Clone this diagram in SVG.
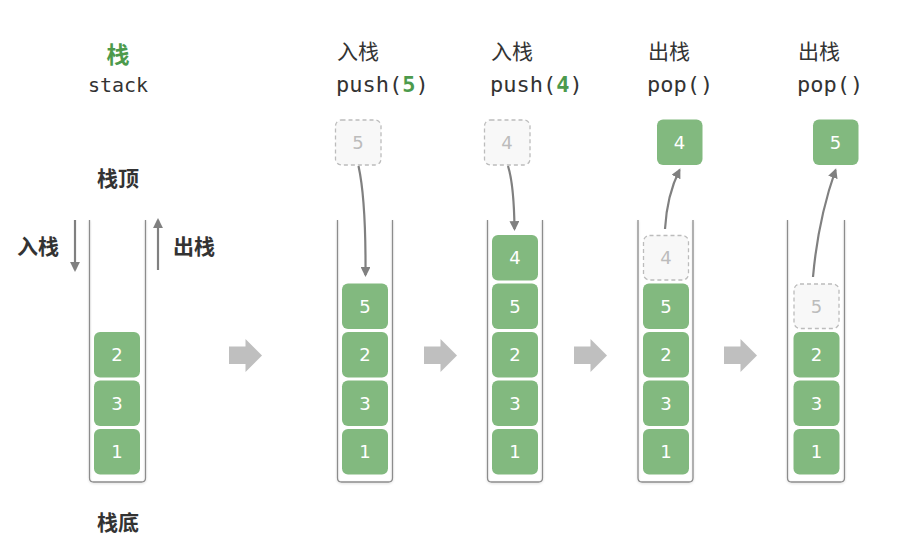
<svg xmlns="http://www.w3.org/2000/svg" width="922" height="553" viewBox="0 0 922 553">
<defs>
<style>
.cjk{font-family:"Noto Sans CJK SC","Noto Sans",sans-serif;fill:#333}
.b{font-weight:bold}
.mono{font-family:"DejaVu Sans Mono","Liberation Mono",monospace;fill:#333}
.wall{fill:none;stroke:#8c8c8c;stroke-width:1.3}
.blk{fill:#82b97f}
.blkt{font-family:"DejaVu Sans","Noto Sans",sans-serif;font-size:18px;fill:#fff;text-anchor:middle;dominant-baseline:central}
.ghost{fill:#f8f8f8;stroke:#bcbcbc;stroke-width:1.3;stroke-dasharray:4 3}
.ghostt{font-family:"DejaVu Sans","Noto Sans",sans-serif;font-size:18px;fill:#bcbcbc;text-anchor:middle;dominant-baseline:central}
.conn{fill:none;stroke:#808080;stroke-width:2.2}
.big{fill:#bfbfbf}
</style>
<marker id="ah" viewBox="0 0 10 10" refX="8" refY="5" markerWidth="4.5" markerHeight="4.5" orient="auto">
<path d="M0,0 L10,5 L0,10 z" fill="#808080"/>
</marker>
<filter id="sh" x="-20%" y="-5%" width="140%" height="110%"><feDropShadow dx="0" dy="1" stdDeviation="1.2" flood-color="#000" flood-opacity="0.15"/></filter>
</defs>

<!-- Stack 1 -->
<g id="stack-intro">
<text x="118" y="63" class="cjk b" font-size="23" text-anchor="middle" style="fill:#4c9a4c">栈</text>
<text x="118" y="92" class="mono" font-size="20" text-anchor="middle">stack</text>
<text x="118" y="186" class="cjk b" font-size="21" text-anchor="middle">栈顶</text>
<text x="38" y="254" class="cjk b" font-size="21" text-anchor="middle">入栈</text>
<text x="194" y="254" class="cjk b" font-size="21" text-anchor="middle">出栈</text>
<text x="118" y="530" class="cjk b" font-size="21" text-anchor="middle">栈底</text>
<path class="wall" filter="url(#sh)" d="M89.5 220 V478 Q89.5 482 93.5 482 H141.5 Q145.5 482 145.5 478 V220"/>
<rect class="blk" x="94" y="332" width="46" height="45.5" rx="6"/><text class="blkt" x="117" y="354.5">2</text>
<rect class="blk" x="94" y="380.5" width="46" height="45.5" rx="6"/><text class="blkt" x="117" y="403">3</text>
<rect class="blk" x="94" y="429" width="46" height="45.5" rx="6"/><text class="blkt" x="117" y="451.5">1</text>
</g>

<!-- Stack 2 push(5) -->
<g id="stack-push5">
<text x="337" y="59" class="cjk" font-size="21">入栈</text>
<text x="336" y="92" class="mono" font-size="22">push(<tspan font-weight="bold" style="fill:#4c9a4c">5</tspan>)</text>
<rect class="ghost" x="335.5" y="120" width="45.5" height="45" rx="6"/><text class="ghostt" x="358" y="142.5">5</text>
<path class="wall" filter="url(#sh)" d="M337.5 220 V478 Q337.5 482 341.5 482 H388.5 Q392.5 482 392.5 478 V220"/>
<rect class="blk" x="342" y="283.5" width="46" height="45.5" rx="6"/><text class="blkt" x="365" y="306">5</text>
<rect class="blk" x="342" y="332" width="46" height="45.5" rx="6"/><text class="blkt" x="365" y="354.5">2</text>
<rect class="blk" x="342" y="380.5" width="46" height="45.5" rx="6"/><text class="blkt" x="365" y="403">3</text>
<rect class="blk" x="342" y="429" width="46" height="45.5" rx="6"/><text class="blkt" x="365" y="451.5">1</text>
</g>

<!-- Stack 3 push(4) -->
<g id="stack-push4">
<text x="491" y="59" class="cjk" font-size="21">入栈</text>
<text x="490" y="92" class="mono" font-size="22">push(<tspan font-weight="bold" style="fill:#4c9a4c">4</tspan>)</text>
<rect class="ghost" x="484.5" y="120" width="45.5" height="45" rx="6"/><text class="ghostt" x="507" y="142.5">4</text>
<path class="wall" filter="url(#sh)" d="M487.5 220 V478 Q487.5 482 491.5 482 H538.5 Q542.5 482 542.5 478 V220"/>
<rect class="blk" x="492" y="235" width="46" height="45.5" rx="6"/><text class="blkt" x="515" y="257.5">4</text>
<rect class="blk" x="492" y="283.5" width="46" height="45.5" rx="6"/><text class="blkt" x="515" y="306">5</text>
<rect class="blk" x="492" y="332" width="46" height="45.5" rx="6"/><text class="blkt" x="515" y="354.5">2</text>
<rect class="blk" x="492" y="380.5" width="46" height="45.5" rx="6"/><text class="blkt" x="515" y="403">3</text>
<rect class="blk" x="492" y="429" width="46" height="45.5" rx="6"/><text class="blkt" x="515" y="451.5">1</text>
</g>

<!-- Stack 4 pop() -->
<g id="stack-pop1">
<text x="648" y="59" class="cjk" font-size="21">出栈</text>
<text x="647" y="92" class="mono" font-size="22">pop()</text>
<rect class="blk" x="657" y="119.5" width="45.5" height="45.5" rx="6"/><text class="blkt" x="679.5" y="142">4</text>
<path class="wall" filter="url(#sh)" d="M638 220 V478 Q638 482 642 482 H689 Q693 482 693 478 V220"/>
<rect class="ghost" x="643.5" y="235.5" width="45" height="44.5" rx="6"/><text class="ghostt" x="666" y="257.5">4</text>
<rect class="blk" x="643" y="283.5" width="46" height="45.5" rx="6"/><text class="blkt" x="666" y="306">5</text>
<rect class="blk" x="643" y="332" width="46" height="45.5" rx="6"/><text class="blkt" x="666" y="354.5">2</text>
<rect class="blk" x="643" y="380.5" width="46" height="45.5" rx="6"/><text class="blkt" x="666" y="403">3</text>
<rect class="blk" x="643" y="429" width="46" height="45.5" rx="6"/><text class="blkt" x="666" y="451.5">1</text>
</g>

<!-- Stack 5 pop() -->
<g id="stack-pop2">
<text x="798" y="59" class="cjk" font-size="21">出栈</text>
<text x="797" y="92" class="mono" font-size="22">pop()</text>
<rect class="blk" x="813" y="119.5" width="45.5" height="45.5" rx="6"/><text class="blkt" x="835.5" y="142">5</text>
<path class="wall" filter="url(#sh)" d="M787.5 220 V478 Q787.5 482 791.5 482 H840.5 Q844.5 482 844.5 478 V220"/>
<rect class="ghost" x="794" y="284" width="45" height="44.5" rx="6"/><text class="ghostt" x="816.5" y="306">5</text>
<rect class="blk" x="793.5" y="332" width="46" height="45.5" rx="6"/><text class="blkt" x="816.5" y="354.5">2</text>
<rect class="blk" x="793.5" y="380.5" width="46" height="45.5" rx="6"/><text class="blkt" x="816.5" y="403">3</text>
<rect class="blk" x="793.5" y="429" width="46" height="45.5" rx="6"/><text class="blkt" x="816.5" y="451.5">1</text>
</g>

<!-- Connectors -->
<g id="connectors">
<path class="conn" marker-end="url(#ah)" d="M75 220 V270"/>
<path class="conn" marker-end="url(#ah)" d="M158 270 V220"/>
<path class="conn" marker-end="url(#ah)" d="M358.5 166 Q366 200 365.5 275"/>
<path class="conn" marker-end="url(#ah)" d="M508 166 Q514 185 514.5 229"/>
<path class="conn" marker-end="url(#ah)" d="M665 229 Q667 195 679.5 170"/>
<path class="conn" marker-end="url(#ah)" d="M813 277 Q818 220 835.5 170"/>
<path class="big" d="M229 346.5 H245.5 V339 L262 355.5 L245.5 372 V364 H229 Z"/>
<path class="big" d="M424 346.5 H440.5 V339 L457 355.5 L440.5 372 V364 H424 Z"/>
<path class="big" d="M574 346.5 H590.5 V339 L607 355.5 L590.5 372 V364 H574 Z"/>
<path class="big" d="M724 346.5 H740.5 V339 L757 355.5 L740.5 372 V364 H724 Z"/>
</g>
</svg>
